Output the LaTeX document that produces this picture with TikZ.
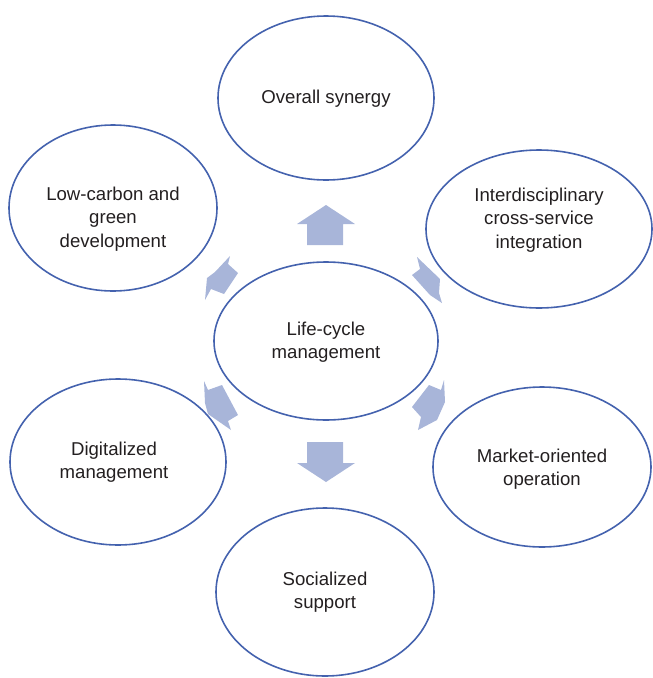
\documentclass[tikz,border=0pt]{standalone}
\usepackage{fontspec}
\setmainfont{Liberation Sans}
\usetikzlibrary{shapes.geometric}
\definecolor{rimblue}{HTML}{4462AE}
\definecolor{arrowblue}{HTML}{A8B5D9}
\definecolor{txtgrey}{HTML}{231F20}

\begin{document}
\begin{tikzpicture}[x=1pt,y=-1pt,
    bubble/.style={ellipse,draw=rimblue,line width=1.6pt,inner sep=0pt},
    txt/.style={align=center,text=txtgrey,font=\fontsize{18.6}{23.5}\selectfont},
    blockarrow/.style={fill=arrowblue,draw=none}]
  \useasboundingbox (0,0) rectangle (653,678);

  % the seven ellipses
  \node[bubble,minimum width=224pt,minimum height=158pt] (life) at (326,341) {};
  \node[bubble,minimum width=216pt,minimum height=164pt] (synergy) at (326,98) {};
  \node[bubble,minimum width=208pt,minimum height=166pt] (green) at (113,208) {};
  \node[bubble,minimum width=226pt,minimum height=158pt] (inter) at (539,229) {};
  \node[bubble,minimum width=216pt,minimum height=166pt] (digital) at (118,462) {};
  \node[bubble,minimum width=218pt,minimum height=160pt] (market) at (542,467) {};
  \node[bubble,minimum width=218pt,minimum height=168pt] (social) at (325,592) {};

  % their texts
  \node[txt] (lifetxt) at ([yshift=-1pt]life.center) {Life-cycle\\management};
  \node[txt] (synergytxt) at ([yshift=-1pt]synergy.center) {Overall synergy};
  \node[txt] (greentxt) at ([yshift=-11pt]green.center) {Low-carbon and\\green\\development};
  \node[txt] (intertxt) at ([yshift=9pt]inter.center) {Interdisciplinary\\cross-service\\integration};
  \node[txt] (digitaltxt) at ([xshift=-4pt]digital.center) {Digitalized\\management};
  \node[txt] (markettxt) at ([yshift=-2pt]market.center) {Market-oriented\\operation};
  \node[txt] (socialtxt) at (social.center) {Socialized\\support};

  % block arrows around the centre
  \fill[blockarrow] (307,245) -- (307,224) -- (297,224) -- (326,205) -- (355,224)
    -- (343,224) -- (343,245) -- cycle;
  \fill[blockarrow] (307,442) -- (343,442) -- (343,463) -- (355,463) -- (326,482)
    -- (297,463) -- (307,463) -- cycle;
  \fill[blockarrow] (230,256) -- (228,264) -- (238,273) -- (224,294) -- (211,289)
    -- (205,300) -- (207,278) -- (215,272) -- cycle;
  \fill[blockarrow] (417,257) -- (440,279) -- (439,293) -- (442,303) -- (430,295)
    -- (412,275) -- (420,269) -- cycle;
  \fill[blockarrow] (204,381) -- (208,390) -- (222,385) -- (238,415) -- (228,421)
    -- (231,430) -- (208,414) -- (205,403) -- cycle;
  \fill[blockarrow] (444,380) -- (441,390) -- (429,385) -- (412,407) -- (421,417)
    -- (418,430) -- (437,420) -- (445,402) -- cycle;
\end{tikzpicture}
\end{document}
